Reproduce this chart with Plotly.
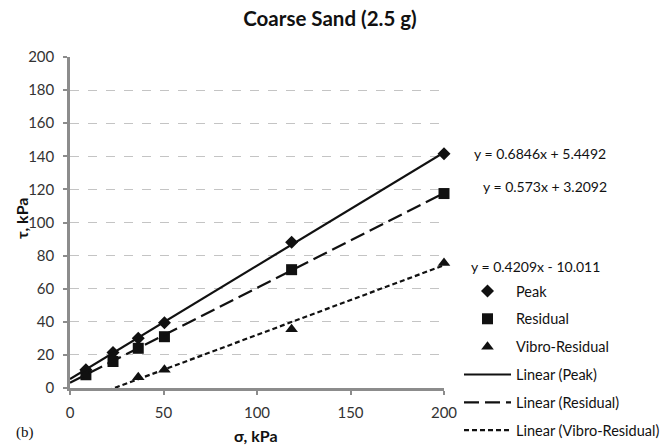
import numpy as np
import plotly.graph_objects as go

# Normal stress (kPa) and measured shear strength (kPa)
sigma = [8.5, 23, 36.5, 50.5, 118.5, 200]
tau_peak = [11, 21.5, 30, 39.5, 88, 141.5]
tau_residual = [8, 16, 24, 31, 71.5, 117.5]
sigma_vibro = [36.5, 50.5, 118.5, 200]
tau_vibro = [6.5, 11, 35.5, 75.5]

# Linear trendline coefficients (slope, intercept)
fit_names = ["Peak", "Residual", "Vibro-Residual"]
fit_slopes = [0.6846, 0.573, 0.4209]
fit_intercepts = [5.4492, 3.2092, -10.011]
fit_labels = ["y = 0.6846x + 5.4492", "y = 0.573x + 3.2092", "y = 0.4209x - 10.011"]

x_ticks = [0, 50, 100, 150, 200]
y_ticks = list(range(0, 201, 20))

W, H = 663, 445
M_L, M_R, M_T, M_B = 70, 219, 57, 57
PW, PH = W - M_L - M_R, H - M_T - M_B
FONT = "Lato"
INK = "#111111"

fig = go.Figure()

marker_styles = [("diamond", 10), ("square", 11), ("triangle-up", 11)]
series = [(sigma, tau_peak), (sigma, tau_residual), (sigma_vibro, tau_vibro)]
for i, (name, (xs, ys), (sym, size)) in enumerate(zip(fit_names, series, marker_styles)):
    fig.add_trace(go.Scatter(
        x=xs, y=ys, mode="markers", name=name, legendgroup=f"g{i}",
        marker=dict(symbol=sym, size=size, color=INK),
        cliponaxis=False,
    ))

dashes = ["solid", "15px,6px", "5px,3px"]
x_line = np.array([0.0, 200.0])
for i, (name, m, b, dash) in enumerate(zip(fit_names, fit_slopes, fit_intercepts, dashes)):
    fig.add_trace(go.Scatter(
        x=x_line, y=m * x_line + b, mode="lines", name=f"Linear ({name})",
        legendgroup=f"l{i}",
        line=dict(color=INK, width=2.2, dash=dash),
    ))


# pixel -> paper / container fractions
def px_x(px):
    return (px - M_L) / PW


def px_y(py):
    return (H - M_B - py) / PH


def cx(px):
    return px / W


def cy(py):
    return 1 - py / H


annotations = []
for label, (px, py) in zip(fit_labels, [(472, 153), (481, 186.5), (469, 266)]):
    annotations.append(dict(
        text=label, x=px_x(px), y=px_y(py), xref="paper", yref="paper",
        xanchor="left", yanchor="middle", showarrow=False,
        font=dict(family=FONT, size=14, color=INK),
    ))
annotations += [
    dict(text="(b)", x=px_x(14), y=px_y(432), xref="paper", yref="paper",
         xanchor="left", yanchor="middle", showarrow=False,
         font=dict(family="Liberation Serif", size=15, color=INK)),
    dict(text="σ, kPa", x=px_x(256), y=px_y(435), xref="paper", yref="paper",
         xanchor="center", yanchor="middle", showarrow=False,
         font=dict(family=FONT, size=16, color=INK, weight="bold")),
    dict(text="τ, kPa", x=px_x(22), y=px_y(218), xref="paper", yref="paper",
         xanchor="center", yanchor="middle", showarrow=False, textangle=-90,
         font=dict(family=FONT, size=16, color=INK, weight="bold")),
]

fig.update_layout(
    width=W, height=H,
    margin=dict(l=M_L, r=M_R, t=M_T, b=M_B),
    paper_bgcolor="white", plot_bgcolor="white",
    title=dict(text="Coarse Sand (2.5 g)", x=cx(330), xref="container", xanchor="center",
               y=cy(19), yref="container", yanchor="middle",
               font=dict(family=FONT, size=20.5, color=INK, weight="bold")),
    showlegend=True,
    legend=dict(
        x=cx(459), y=cy(275), xref="container", yref="container",
        xanchor="left", yanchor="top",
        traceorder="grouped", tracegroupgap=6,
        itemwidth=47, bgcolor="rgba(0,0,0,0)",
        font=dict(family=FONT, size=14.5, color=INK),
    ),
    annotations=annotations,
    xaxis=dict(
        range=[0, 200], tickvals=x_ticks, showgrid=False, zeroline=False,
        automargin=False,
        showline=True, linecolor="#8c8c8c", linewidth=2.5,
        ticks="outside", ticklen=4, tickcolor="#8c8c8c", tickwidth=2,
        ticklabelstandoff=5,
        tickfont=dict(family=FONT, size=15, color="#333333"),
    ),
    yaxis=dict(
        range=[0, 200], tickvals=y_ticks, zeroline=False, automargin=False,
        showgrid=True, gridcolor="#c4c4c4", gridwidth=1, griddash="dash",
        showline=True, linecolor="#8c8c8c", linewidth=2.5,
        ticks="outside", ticklen=4, tickcolor="#8c8c8c", tickwidth=2,
        ticklabelstandoff=6,
        tickfont=dict(family=FONT, size=15, color="#333333"),
    ),
)

fig.write_html("out.html")
